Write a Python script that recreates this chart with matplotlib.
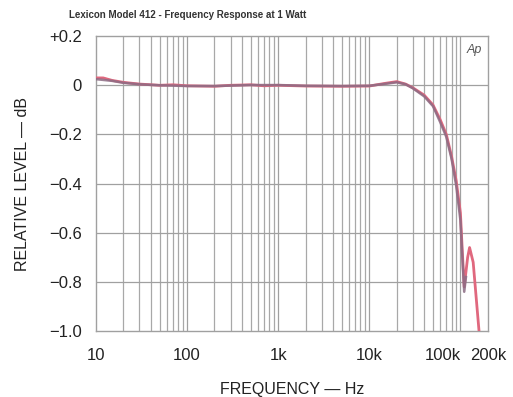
import numpy as np
from matplotlib import pyplot as plt

plt.rcParams['font.family'] = ['Liberation Sans', 'DejaVu Sans']

# Frequency response data (dB relative to 1 kHz)
freq_a = [10, 12, 15, 20, 30, 50, 70, 100, 200, 300, 500, 700, 1000, 2000, 5000,
          10000, 15000, 20000, 25000, 30000, 40000, 50000, 60000, 70000, 80000,
          90000, 100000, 105000, 110000, 120000, 126000, 138000, 160000]
level_a = [0.03, 0.03, 0.02, 0.012, 0.005, 0.0, 0.002, -0.002, -0.004, 0.0, 0.002,
           -0.002, 0.0, -0.003, -0.004, -0.003, 0.008, 0.015, 0.005, -0.01, -0.04,
           -0.08, -0.14, -0.2, -0.29, -0.39, -0.52, -0.68, -0.82, -0.7, -0.66,
           -0.72, -1.0]

freq_b = [10, 15, 20, 30, 50, 100, 200, 500, 1000, 2000, 5000, 10000, 15000,
          20000, 25000, 30000, 40000, 50000, 60000, 70000, 80000, 90000, 100000,
          105000, 110000, 115000]
level_b = [0.025, 0.018, 0.01, 0.004, 0.0, -0.003, -0.003, 0.001, 0.001, -0.002,
           -0.003, -0.002, 0.006, 0.012, 0.004, -0.012, -0.045, -0.085, -0.15,
           -0.21, -0.3, -0.41, -0.55, -0.7, -0.84, -0.78]

xtick_vals = [10, 100, 1000, 10000, 100000, 200000]
xtick_labels = ['10', '100', '1k', '10k', '100k', '200k']
ytick_vals = [0.2, 0.0, -0.2, -0.4, -0.6, -0.8, -1.0]
ytick_labels = ['+0.2', '0', '\u22120.2', '\u22120.4', '\u22120.6', '\u22120.8', '\u22121.0']

fig = plt.figure(figsize=(5.13, 3.97), dpi=100)
ax = fig.add_axes([0.187, 0.166, 0.764, 0.743])

ax.set_xscale('log')
ax.set_xlim(10, 200000)
ax.set_ylim(-1.0, 0.2)

# grid: every 1-9 per decade, plus every 0.2 dB
minor = [m * 10 ** d for d in range(1, 6) for m in range(2, 10)]
for f in minor:
    if f < 200000:
        ax.axvline(f, color='#a8a8a8', lw=0.9, zorder=1)
for f in xtick_vals[1:-1]:
    ax.axvline(f, color='#a0a0a0', lw=0.9, zorder=1)
for y in ytick_vals[1:-1]:
    ax.axhline(y, color='#a0a0a0', lw=0.9, zorder=1)

ax.plot(freq_a, level_a, color='#e0687e', lw=2.0, zorder=3)
ax.plot(freq_b, level_b, color='#8c6c84', lw=1.8, alpha=0.85, zorder=4)

ax.set_xticks(xtick_vals)
ax.set_xticklabels(xtick_labels)
ax.set_xticks([], minor=True)
ax.set_yticks(ytick_vals)
ax.set_yticklabels(ytick_labels)
ax.tick_params(length=0, labelsize=12, colors='#222222')
ax.tick_params(axis='x', pad=12)
ax.tick_params(axis='y', pad=10)
xl = ax.get_xticklabels()
xl[4].set_horizontalalignment('right')
xl[5].set_horizontalalignment('center')

for s in ax.spines.values():
    s.set_color('#a0a0a0')
    s.set_linewidth(1.0)

ax.set_xlabel('FREQUENCY \u2014 Hz', fontsize=11.5, color='#222222', labelpad=14)
ax.set_ylabel('RELATIVE LEVEL \u2014 dB', fontsize=11.5, color='#222222', labelpad=14)

fig.text(0.135, 0.955, 'Lexicon Model 412 - Frequency Response at 1 Watt',
         fontsize=7, fontweight='bold', color='#333333')
ax.text(0.985, 0.975, 'Ap', transform=ax.transAxes, ha='right', va='top',
        fontsize=9, style='italic', color='#555555')

fig.savefig('out.png', dpi=100)
